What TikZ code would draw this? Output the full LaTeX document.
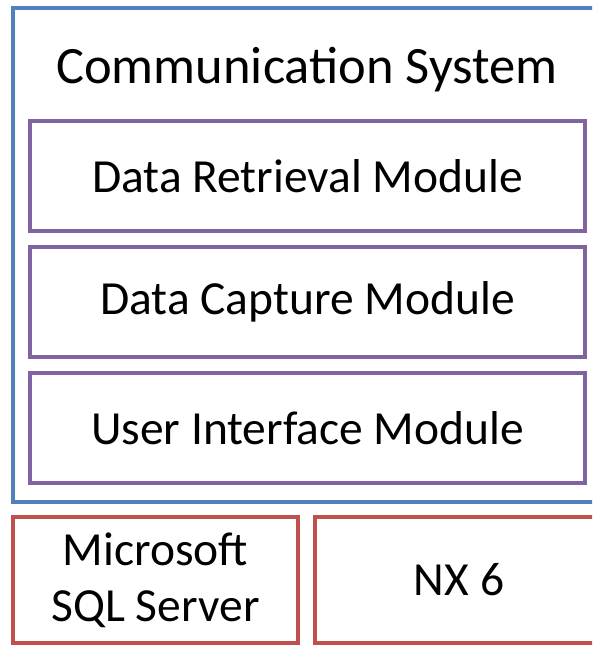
\documentclass[tikz,border=0pt]{standalone}
\usepackage{fontspec}
\setmainfont{Carlito}
\usetikzlibrary{positioning}
\definecolor{sysblue}{HTML}{4F81BD}
\definecolor{modpurple}{HTML}{8064A2}
\definecolor{basered}{HTML}{C0504D}
\begin{document}
\begin{tikzpicture}[x=1pt,y=-1pt,line width=3.5pt,
  module/.style={draw=modpurple,minimum width=555pt,minimum height=110pt,inner sep=0pt,outer sep=0pt,font=\fontsize{47.5}{50}\selectfont},
  basebox/.style={draw=basered,minimum height=126pt,inner sep=0pt,outer sep=0pt,align=center,font=\fontsize{47.5}{56}\selectfont}]
\clip (0,0) rectangle (592,645);
% outer system frame
\node[draw=sysblue,minimum width=600pt,minimum height=494pt,inner sep=0pt,outer sep=0pt] (system) at (313,255) {};
\node[font=\fontsize{52.5}{56}\selectfont] (title) at (307,70) {Communication System};
% modules
\node[module] (retrieval) at (307.5,176) {Data Retrieval Module};
\node[module,below=16pt of retrieval] (capture) {Data Capture Module};
\node[module,below=16pt of capture] (ui) {User Interface Module};
% platform
\node[basebox,minimum width=285pt] (sql) at (155.5,580) {Microsoft\\SQL Server};
\node[basebox,minimum width=300pt,right=17pt of sql] (nx) {};
\node[font=\fontsize{47.5}{50}\selectfont] (nxlabel) at (459,580) {NX 6};
\end{tikzpicture}
\end{document}
